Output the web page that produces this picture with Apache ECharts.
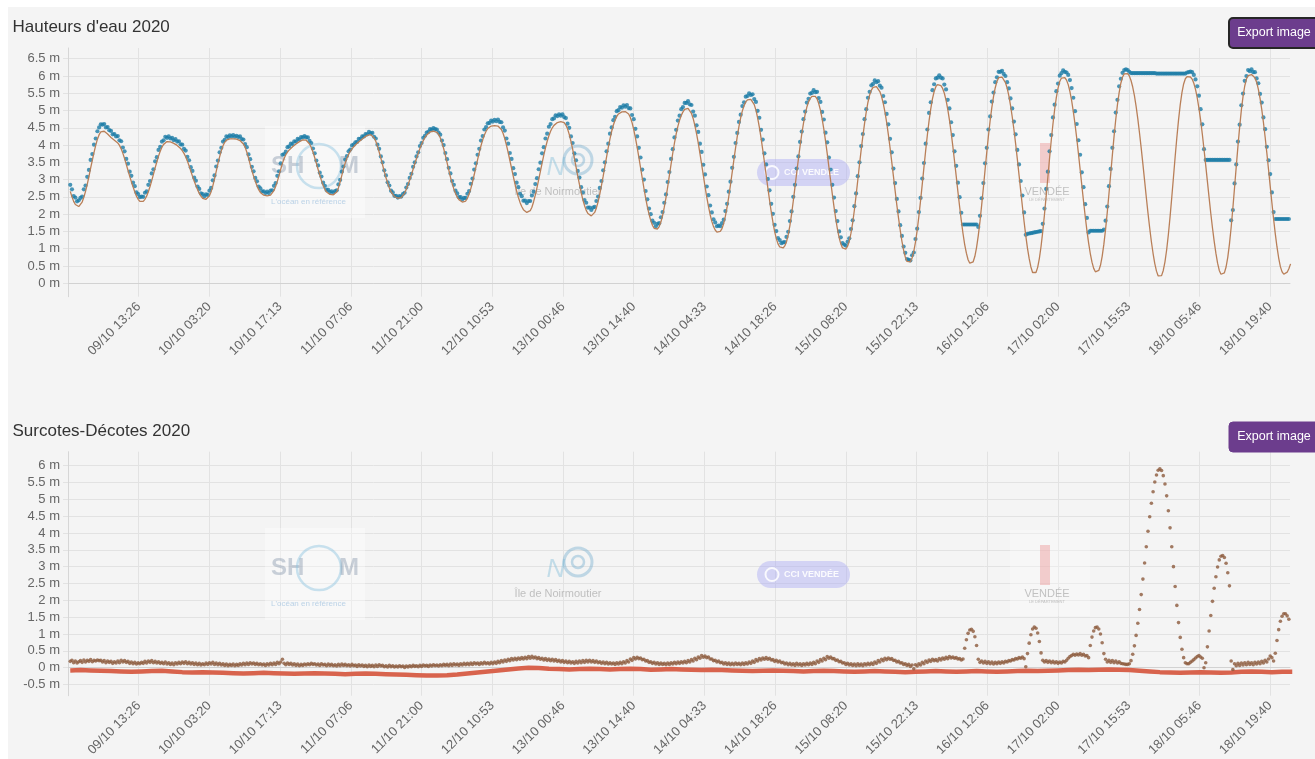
<!DOCTYPE html>
<html>
<head>
<meta charset="utf-8">
<title>Hauteurs d'eau 2020</title>
<script src="https://cdn.jsdelivr.net/npm/echarts@6/dist/echarts.min.js"></script>
<style>
  html, body { margin: 0; padding: 0; background: #ffffff; }
  #chart { width: 1315px; height: 759px; }
</style>
</head>
<body>
<div id="chart"></div>
<script>
// Tide gauge, 09/10/2020 00:00 -> 18/10/2020 23:40 (UTC), one value every 20 minutes.
const sampleStart = Date.UTC(2020, 9, 9, 0, 0, 0);
const sampleStepMinutes = 20;

// Predicted water height (m), 6 values = 2 hours.
const predicted = [
  2.66,2.50,2.37,2.28,2.23,2.22, 2.26,2.35,2.49,2.66,2.86,3.09,
  3.33,3.56,3.79,3.99,4.17,4.30, 4.38,4.42,4.40,4.36,4.32,4.27,
  4.22,4.18,4.14,4.11,4.06,3.99, 3.89,3.76,3.61,3.44,3.27,3.10,
  2.94,2.79,2.65,2.52,2.43,2.37, 2.35,2.37,2.43,2.52,2.65,2.80,
  2.97,3.15,3.34,3.51,3.68,3.82, 3.94,4.02,4.07,4.10,4.10,4.09,
  4.07,4.05,4.02,3.99,3.95,3.90, 3.84,3.76,3.66,3.54,3.40,3.25,
  // 10/10
  3.10,2.96,2.83,2.71,2.60,2.52, 2.46,2.43,2.43,2.46,2.53,2.65,
  2.82,3.02,3.24,3.46,3.66,3.84, 3.98,4.08,4.14,4.17,4.18,4.18,
  4.18,4.18,4.17,4.16,4.13,4.09, 4.03,3.94,3.80,3.63,3.44,3.26,
  3.10,2.95,2.82,2.71,2.63,2.58, 2.55,2.54,2.53,2.53,2.55,2.60,
  2.68,2.80,2.95,3.12,3.30,3.47, 3.61,3.72,3.80,3.86,3.91,3.95,
  3.99,4.03,4.07,4.10,4.13,4.15, 4.15,4.14,4.10,4.03,3.93,3.80,
  // 11/10
  3.64,3.47,3.30,3.13,2.97,2.83, 2.72,2.64,2.59,2.57,2.56,2.56,
  2.58,2.64,2.76,2.93,3.12,3.31, 3.48,3.62,3.73,3.82,3.89,3.95,
  4.00,4.05,4.09,4.13,4.17,4.21, 4.25,4.28,4.30,4.30,4.28,4.21,
  4.11,3.97,3.80,3.62,3.43,3.24, 3.06,2.90,2.76,2.65,2.57,2.51,
  2.48,2.46,2.46,2.48,2.53,2.61, 2.72,2.85,2.99,3.14,3.30,3.46,
  3.61,3.76,3.90,4.02,4.13,4.22, 4.29,4.34,4.38,4.40,4.40,4.40,
  // 12/10
  4.37,4.31,4.21,4.07,3.90,3.70, 3.49,3.28,3.07,2.89,2.73,2.60,
  2.49,2.42,2.37,2.35,2.34,2.38, 2.46,2.58,2.74,2.93,3.14,3.36,
  3.58,3.79,3.98,4.15,4.29,4.40, 4.48,4.53,4.55,4.56,4.56,4.56,
  4.55,4.52,4.45,4.34,4.19,4.00, 3.79,3.56,3.33,3.10,2.88,2.67,
  2.49,2.34,2.22,2.13,2.08,2.05, 2.05,2.10,2.20,2.36,2.55,2.77,
  3.00,3.24,3.48,3.71,3.92,4.11, 4.27,4.40,4.50,4.57,4.62,4.65,
  // 13/10
  4.67,4.68,4.68,4.65,4.58,4.47, 4.31,4.11,3.88,3.63,3.37,3.11,
  2.86,2.63,2.42,2.25,2.11,2.02, 1.97,1.95,1.98,2.05,2.18,2.36,
  2.58,2.83,3.10,3.38,3.66,3.93, 4.18,4.40,4.58,4.72,4.83,4.90,
  4.94,4.96,4.97,4.97,4.95,4.90, 4.80,4.65,4.45,4.21,3.94,3.65,
  3.35,3.05,2.75,2.47,2.22,2.00, 1.82,1.68,1.59,1.54,1.57,1.64,
  1.77,1.96,2.20,2.48,2.79,3.12, 3.45,3.77,4.06,4.32,4.54,4.72,
  // 14/10
  4.86,4.96,5.03,5.07,5.06,5.01, 4.92,4.77,4.57,4.33,4.06,3.76,
  3.44,3.12,2.80,2.50,2.23,1.99, 1.79,1.64,1.54,1.48,1.47,1.50,
  1.58,1.73,1.94,2.20,2.51,2.85, 3.21,3.57,3.92,4.25,4.54,4.79,
  4.99,5.14,5.25,5.31,5.33,5.32, 5.27,5.17,5.01,4.79,4.52,4.21,
  3.87,3.51,3.14,2.77,2.41,2.07, 1.77,1.50,1.29,1.14,1.05,1.01,
  1.02,1.08,1.20,1.40,1.67,2.00, 2.38,2.78,3.19,3.59,3.97,4.32,
  // 15/10
  4.63,4.89,5.10,5.25,5.35,5.41, 5.43,5.41,5.34,5.20,5.01,4.76,
  4.46,4.12,3.75,3.36,2.97,2.58, 2.21,1.87,1.57,1.32,1.14,1.02,
  0.97,0.99,1.07,1.22,1.45,1.75, 2.12,2.54,2.98,3.43,3.86,4.26,
  4.63,4.96,5.24,5.45,5.59,5.67, 5.70,5.69,5.64,5.55,5.41,5.21,
  4.96,4.66,4.31,3.93,3.52,3.10, 2.68,2.27,1.89,1.54,1.22,0.96,
  0.76,0.63,0.58,0.62,0.73,0.92, 1.19,1.53,1.94,2.39,2.87,3.36,
  // 16/10
  3.84,4.29,4.70,5.05,5.34,5.55, 5.69,5.75,5.75,5.72,5.64,5.50,
  5.30,5.04,4.73,4.37,3.97,3.54, 3.10,2.65,2.22,1.81,1.44,1.12,
  0.87,0.68,0.58,0.56,0.62,0.78, 1.04,1.38,1.79,2.26,2.76,3.28,
  3.79,4.27,4.71,5.09,5.41,5.66, 5.84,5.95,5.99,5.97,5.92,5.81,
  5.65,5.43,5.15,4.82,4.45,4.04, 3.60,3.14,2.68,2.22,1.78,1.37,
  1.01,0.71,0.47,0.31,0.26,0.31, 0.46,0.72,1.07,1.50,1.99,2.52,
  // 17/10
  3.07,3.62,4.14,4.61,5.03,5.38, 5.65,5.84,5.94,5.97,5.95,5.88,
  5.75,5.55,5.29,4.97,4.61,4.20, 3.76,3.30,2.84,2.38,1.94,1.53,
  1.17,0.86,0.61,0.43,0.33,0.31, 0.37,0.52,0.78,1.13,1.56,2.05,
  2.59,3.15,3.71,4.25,4.74,5.17, 5.52,5.79,5.97,6.06,6.09,6.07,
  6.00,5.87,5.68,5.43,5.12,4.76, 4.35,3.91,3.45,2.97,2.49,2.03,
  1.60,1.20,0.86,0.57,0.35,0.21, 0.17,0.22,0.37,0.62,0.97,1.41,
  // 18/10
  1.92,2.48,3.07,3.66,4.22,4.73, 5.17,5.52,5.77,5.92,5.98,5.99,
  5.97,5.91,5.79,5.61,5.37,5.07, 4.72,4.32,3.88,3.42,2.95,2.48,
  2.02,1.60,1.21,0.87,0.58,0.37, 0.26,0.24,0.30,0.47,0.75,1.14,
  1.62,2.17,2.77,3.38,3.97,4.52, 5.01,5.41,5.71,5.91,6.01,6.04,
  6.04,6.02,5.95,5.82,5.62,5.36, 5.04,4.66,4.24,3.78,3.30,2.81,
  2.33,1.86,1.43,1.05,0.73,0.48, 0.33,0.26,0.26,0.32,0.42,0.56
];

// Observed surge / negative surge (m) on the same 20-minute steps.
const surge = [
  0.19,0.22,0.15,0.20,0.14,0.18, 0.21,0.16,0.23,0.17,0.22,0.19,
  0.24,0.18,0.22,0.20,0.23,0.21, 0.22,0.17,0.21,0.15,0.20,0.16,
  0.19,0.13,0.18,0.14,0.20,0.15, 0.22,0.17,0.21,0.16,0.19,0.13,
  0.17,0.12,0.16,0.11,0.15,0.12, 0.16,0.13,0.19,0.14,0.20,0.16,
  0.21,0.15,0.19,0.14,0.18,0.13, 0.16,0.12,0.17,0.11,0.15,0.10,
  0.14,0.09,0.15,0.11,0.16,0.12, 0.17,0.13,0.18,0.12,0.16,0.11,
  // 10/10
  0.15,0.10,0.14,0.09,0.13,0.08, 0.12,0.09,0.14,0.10,0.15,0.11,
  0.16,0.10,0.14,0.09,0.13,0.08, 0.12,0.07,0.11,0.06,0.10,0.07,
  0.11,0.06,0.10,0.07,0.12,0.08, 0.13,0.09,0.14,0.10,0.15,0.11,
  0.14,0.10,0.13,0.09,0.12,0.08, 0.11,0.07,0.12,0.08,0.13,0.09,
  0.14,0.10,0.16,0.12,0.17,0.25, 0.13,0.09,0.14,0.10,0.13,0.08,
  0.12,0.07,0.11,0.06,0.10,0.07, 0.11,0.08,0.12,0.09,0.13,0.10,
  // 11/10
  0.12,0.08,0.11,0.07,0.12,0.08, 0.10,0.06,0.11,0.07,0.10,0.06,
  0.09,0.05,0.10,0.06,0.11,0.07, 0.10,0.06,0.09,0.05,0.10,0.06,
  0.08,0.04,0.09,0.05,0.08,0.04, 0.07,0.03,0.08,0.04,0.07,0.03,
  0.08,0.04,0.09,0.05,0.07,0.03, 0.06,0.02,0.07,0.03,0.06,0.02,
  0.05,0.02,0.06,0.03,0.05,0.01, 0.05,0.02,0.06,0.03,0.07,0.04,
  0.06,0.03,0.07,0.04,0.08,0.05, 0.07,0.04,0.08,0.05,0.09,0.06,
  // 12/10
  0.08,0.05,0.09,0.06,0.10,0.07, 0.10,0.06,0.11,0.07,0.12,0.08,
  0.11,0.07,0.12,0.08,0.13,0.09, 0.13,0.09,0.14,0.10,0.15,0.11,
  0.14,0.10,0.15,0.11,0.16,0.12, 0.15,0.11,0.16,0.12,0.17,0.13,
  0.19,0.15,0.21,0.17,0.23,0.19, 0.25,0.21,0.27,0.23,0.28,0.24,
  0.29,0.25,0.30,0.26,0.31,0.27, 0.33,0.28,0.34,0.29,0.32,0.27,
  0.30,0.25,0.28,0.23,0.27,0.22, 0.26,0.21,0.25,0.20,0.24,0.19,
  // 13/10
  0.22,0.17,0.21,0.16,0.20,0.15, 0.19,0.14,0.18,0.13,0.19,0.14,
  0.20,0.15,0.21,0.16,0.22,0.17, 0.22,0.17,0.21,0.16,0.20,0.15,
  0.18,0.13,0.17,0.12,0.16,0.11, 0.15,0.11,0.14,0.10,0.15,0.11,
  0.16,0.12,0.18,0.14,0.21,0.17, 0.26,0.22,0.30,0.26,0.31,0.27,
  0.29,0.24,0.25,0.20,0.21,0.16, 0.18,0.13,0.16,0.11,0.15,0.10,
  0.14,0.10,0.13,0.09,0.14,0.10, 0.15,0.11,0.16,0.12,0.17,0.13,
  // 14/10
  0.18,0.14,0.19,0.15,0.21,0.17, 0.24,0.20,0.28,0.24,0.32,0.28,
  0.36,0.31,0.35,0.30,0.32,0.26, 0.26,0.21,0.22,0.17,0.20,0.15,
  0.16,0.11,0.15,0.10,0.14,0.09, 0.13,0.09,0.14,0.10,0.13,0.09,
  0.14,0.10,0.15,0.11,0.17,0.13, 0.20,0.16,0.24,0.20,0.27,0.23,
  0.29,0.25,0.30,0.25,0.28,0.23, 0.24,0.19,0.22,0.17,0.20,0.15,
  0.16,0.11,0.14,0.09,0.13,0.08, 0.12,0.07,0.13,0.08,0.12,0.07,
  // 15/10
  0.12,0.08,0.13,0.09,0.14,0.10, 0.16,0.12,0.20,0.16,0.24,0.20,
  0.28,0.24,0.33,0.28,0.32,0.27, 0.27,0.22,0.23,0.18,0.19,0.14,
  0.15,0.10,0.13,0.08,0.12,0.07, 0.11,0.06,0.12,0.07,0.11,0.06,
  0.12,0.08,0.13,0.09,0.14,0.10, 0.17,0.13,0.21,0.17,0.25,0.21,
  0.28,0.24,0.29,0.25,0.27,0.22, 0.22,0.17,0.19,0.14,0.15,0.10,
  0.12,0.07,0.10,0.04,0.08,-0.03, 0.09,0.05,0.12,0.08,0.16,0.12,
  // 16/10
  0.20,0.16,0.23,0.19,0.25,0.21, 0.24,0.20,0.27,0.23,0.29,0.25,
  0.31,0.27,0.33,0.29,0.32,0.28, 0.30,0.26,0.27,0.23,0.26,0.58,
  0.83,1.02,1.12,1.14,1.08,0.92, 0.66,0.25,0.16,0.20,0.14,0.19,
  0.13,0.18,0.12,0.17,0.11,0.16, 0.12,0.17,0.13,0.18,0.14,0.19,
  0.17,0.21,0.20,0.24,0.23,0.27, 0.26,0.30,0.28,0.32,0.27,0.03,
  0.42,0.73,0.98,1.15,1.21,1.17, 1.03,0.78,0.44,0.22,0.17,0.21,
  // 17/10
  0.16,0.20,0.15,0.19,0.14,0.18, 0.13,0.17,0.14,0.19,0.17,0.22,
  0.28,0.33,0.36,0.40,0.37,0.41, 0.38,0.42,0.37,0.40,0.35,0.36,
  0.30,0.66,0.91,1.09,1.19,1.21, 1.15,1.00,0.74,0.42,0.25,0.17,
  0.22,0.16,0.21,0.15,0.20,0.14, 0.18,0.13,0.12,0.11,0.10,0.10,
  0.12,0.21,0.40,0.65,0.96,1.32, 1.73,2.17,2.63,3.11,3.59,4.05,
  4.48,4.88,5.22,5.51,5.72,5.86, 5.90,5.85,5.70,5.45,5.10,4.66,
  // 18/10
  4.15,3.59,3.00,2.41,1.85,1.34, 0.90,0.55,0.30,0.15,0.12,0.12,
  0.16,0.20,0.24,0.29,0.33,0.36, 0.32,0.28,0.00,0.15,0.62,1.09,
  1.55,1.97,2.36,2.70,2.99,3.20, 3.31,3.33,3.27,3.10,2.82,2.43,
  0.20,-0.05,0.12,0.06,0.13,0.07, 0.14,0.08,0.15,0.09,0.16,0.10,
  0.15,0.09,0.16,0.11,0.17,0.12, 0.19,0.14,0.22,0.17,0.26,0.35,
  0.30,0.20,0.43,0.81,1.13,1.38, 1.53,1.60,1.60,1.54,1.44,1.30
];

// Forecast surge (m), one value every 2 hours from 09/10 00:00.
const forecastStepMinutes = 120;
const surgeForecast = [
  -0.08,-0.07,-0.08,-0.09,-0.10,-0.11,-0.12,-0.11,-0.10,-0.09,-0.11,-0.13,
  -0.14,-0.13,-0.14,-0.15,-0.16,-0.17,-0.16,-0.15,-0.16,-0.17,-0.18,-0.17,
  -0.16,-0.17,-0.18,-0.19,-0.18,-0.17,-0.18,-0.19,-0.20,-0.21,-0.22,-0.23,
  -0.23,-0.22,-0.20,-0.17,-0.14,-0.11,-0.08,-0.05,-0.02,0.00,-0.01,-0.03,
  -0.04,-0.05,-0.04,-0.03,-0.04,-0.05,-0.04,-0.03,-0.04,-0.06,-0.05,-0.04,
  -0.05,-0.06,-0.07,-0.06,-0.07,-0.08,-0.09,-0.10,-0.09,-0.08,-0.09,-0.10,
  -0.11,-0.10,-0.09,-0.10,-0.11,-0.12,-0.11,-0.10,-0.11,-0.12,-0.13,-0.12,
  -0.11,-0.10,-0.11,-0.12,-0.11,-0.10,-0.11,-0.12,-0.11,-0.10,-0.09,-0.10,
  -0.09,-0.08,-0.07,-0.06,-0.07,-0.06,-0.05,-0.06,-0.07,-0.09,-0.11,-0.13,
  -0.14,-0.15,-0.14,-0.13,-0.14,-0.15,-0.14,-0.12,-0.11,-0.12,-0.13,-0.12,
  -0.12
];

// Time axis: ticks every 13 h 53 min 20 s, first label 09/10 13:26.
const axisMin = Date.UTC(2020, 9, 8, 23, 33, 20);
const axisTickStep = 50000 * 1000;
const axisMax = axisMin + 864000 * 1000;

const titles = ["Hauteurs d'eau 2020", 'Surcotes-Décotes 2020'];
const buttonText = 'Export image';

const FONT = '"Liberation Sans", Arial, Helvetica, sans-serif';
const stepMs = sampleStepMinutes * 60000;

// Observed height = prediction + surge.
const observed = predicted.map((p, i) => Math.round((p + surge[i]) * 100) / 100);

const predData = predicted.map((v, i) => [sampleStart + i * stepMs, v]);
const obsData = observed.map((v, i) => [sampleStart + i * stepMs, v]);
const surgeData = surge.map((v, i) => [sampleStart + i * stepMs, v]);
const forecastData = surgeForecast.map((v, i) => [sampleStart + i * forecastStepMinutes * 60000, v]);

function pad2(n) { return String(n).padStart(2, '0'); }
function fmtTime(v) {
  const d = new Date(v);
  return pad2(d.getUTCDate()) + '/' + pad2(d.getUTCMonth() + 1) + ' ' +
         pad2(d.getUTCHours()) + ':' + pad2(d.getUTCMinutes());
}

const GRID_COLOR = '#e2e2e2';

function xAxisFor(gridIndex) {
  return {
    type: 'value', gridIndex,
    min: axisMin, max: axisMax, interval: axisTickStep,
    axisLine: { show: true, lineStyle: { color: '#d2d2d2' } },
    axisTick: { show: false },
    axisLabel: {
      rotate: 45, formatter: fmtTime, color: '#666', fontSize: 13, fontFamily: FONT,
      showMinLabel: false, showMaxLabel: false, margin: 8
    },
    splitLine: { show: true, lineStyle: { color: GRID_COLOR }, showMinLine: false, showMaxLine: false }
  };
}
function yAxisFor(gridIndex, min, max) {
  return {
    type: 'value', gridIndex, min, max,
    minInterval: 0.5, maxInterval: 0.5, splitNumber: 14,
    axisLine: { show: true, lineStyle: { color: '#d6d6d6' } },
    axisTick: { show: true, length: 5, lineStyle: { color: GRID_COLOR } },
    axisLabel: {
      formatter: v => v + ' m', color: '#666', fontSize: 13, fontFamily: FONT,
      showMinLabel: false, showMaxLabel: false, margin: 8
    },
    splitLine: { show: true, lineStyle: { color: GRID_COLOR }, showMinLine: false, showMaxLine: false }
  };
}

// Faint partner logos drawn behind the data.
function logos(dy) {
  const g = [];
  // SHOM
  g.push({ type: 'rect', z: 1, shape: { x: 265, y: 126 + dy, width: 100, height: 92 }, style: { fill: 'rgba(255,255,255,0.35)' } });
  g.push({ type: 'text', z: 1, x: 271, y: 166 + dy, style: { text: 'SH', font: 'bold 24px ' + FONT, fill: 'rgba(110,130,155,0.35)', verticalAlign: 'middle' } });
  g.push({ type: 'circle', z: 1, shape: { cx: 319, cy: 166 + dy, r: 22 }, style: { fill: 'none', stroke: 'rgba(140,195,225,0.45)', lineWidth: 2.5 } });
  g.push({ type: 'text', z: 1, x: 339, y: 166 + dy, style: { text: 'M', font: 'bold 24px ' + FONT, fill: 'rgba(110,130,155,0.35)', verticalAlign: 'middle' } });
  g.push({ type: 'text', z: 1, x: 271, y: 202 + dy, style: { text: "L'océan en référence", font: '8px ' + FONT, fill: 'rgba(110,165,210,0.45)', verticalAlign: 'middle' } });
  // Île de Noirmoutier
  g.push({ type: 'circle', z: 1, shape: { cx: 578, cy: 160 + dy, r: 14 }, style: { fill: 'none', stroke: 'rgba(110,170,205,0.4)', lineWidth: 3 } });
  g.push({ type: 'circle', z: 1, shape: { cx: 578, cy: 160 + dy, r: 6 }, style: { fill: 'none', stroke: 'rgba(110,170,205,0.4)', lineWidth: 2.5 } });
  g.push({ type: 'text', z: 1, x: 556, y: 168 + dy, style: { text: 'N', font: 'italic 26px ' + FONT, fill: 'rgba(120,185,215,0.4)', align: 'center', verticalAlign: 'middle' } });
  g.push({ type: 'text', z: 1, x: 558, y: 192 + dy, style: { text: 'Île de Noirmoutier', font: '11px ' + FONT, fill: 'rgba(140,140,140,0.5)', align: 'center', verticalAlign: 'middle' } });
  // CCI Vendée
  g.push({ type: 'rect', z: 1, shape: { x: 757, y: 159 + dy, width: 93, height: 27, r: 13.5 }, style: { fill: 'rgba(170,170,245,0.45)' } });
  g.push({ type: 'circle', z: 1, shape: { cx: 772, cy: 172.5 + dy, r: 6.5 }, style: { fill: 'none', stroke: 'rgba(255,255,255,0.85)', lineWidth: 2 } });
  g.push({ type: 'text', z: 1, x: 784, y: 173 + dy, style: { text: 'CCI VENDÉE', font: 'bold 9px ' + FONT, fill: 'rgba(255,255,255,0.9)', verticalAlign: 'middle' } });
  // Vendée
  g.push({ type: 'rect', z: 1, shape: { x: 1010, y: 128 + dy, width: 80, height: 86 }, style: { fill: 'rgba(255,255,255,0.3)' } });
  g.push({ type: 'rect', z: 1, shape: { x: 1040, y: 143 + dy, width: 10, height: 40 }, style: { fill: 'rgba(235,150,150,0.45)' } });
  g.push({ type: 'text', z: 1, x: 1047, y: 192 + dy, style: { text: 'VENDÉE', font: '11px ' + FONT, fill: 'rgba(140,140,140,0.5)', align: 'center', verticalAlign: 'middle' } });
  g.push({ type: 'text', z: 1, x: 1047, y: 200 + dy, style: { text: 'LE DÉPARTEMENT', font: '4px ' + FONT, fill: 'rgba(140,140,140,0.5)', align: 'center', verticalAlign: 'middle' } });
  return g;
}

function exportButton(y, bordered) {
  return [
    { type: 'rect', z: 20, shape: { x: 1229, y: y, width: 92, height: 30, r: 4 },
      style: { fill: '#6c3d8d', stroke: bordered ? '#262626' : '#6c3d8d', lineWidth: bordered ? 2 : 1 } },
    { type: 'text', z: 21, x: 1274, y: y + 15,
      style: { text: buttonText, font: '12.5px ' + FONT, fill: '#ffffff', align: 'center', verticalAlign: 'middle' } }
  ];
}

const chart = echarts.init(document.getElementById('chart'), null, { renderer: 'canvas' });

chart.setOption({
  animation: false,
  backgroundColor: '#f4f4f4',
  grid: [
    { left: 68, right: 25, top: 48, height: 248.7 },
    { left: 68, right: 25, top: 451.7, height: 247.6 }
  ],
  xAxis: [xAxisFor(0), xAxisFor(1)],
  yAxis: [yAxisFor(0, -0.39, 6.81), yAxisFor(1, -0.83, 6.41)],
  graphic: [
    { type: 'rect', z: 30, shape: { x: 0, y: 0, width: 1315, height: 7 }, style: { fill: '#ffffff' } },
    { type: 'rect', z: 30, shape: { x: 0, y: 0, width: 8, height: 759 }, style: { fill: '#ffffff' } },
    { type: 'text', z: 20, x: 12.5, y: 27, style: { text: titles[0], font: '17px ' + FONT, fill: '#333', verticalAlign: 'middle' } },
    { type: 'text', z: 20, x: 12.5, y: 431, style: { text: titles[1], font: '17px ' + FONT, fill: '#333', verticalAlign: 'middle' } },
    ...logos(0),
    ...logos(402),
    ...exportButton(18, true),
    ...exportButton(422, false)
  ],
  series: [
    {
      name: 'Observation', type: 'scatter', xAxisIndex: 0, yAxisIndex: 0,
      data: obsData, symbolSize: 4.2, itemStyle: { color: '#1c7ca6' }, z: 3
    },
    {
      name: 'Prédiction', type: 'line', xAxisIndex: 0, yAxisIndex: 0,
      data: predData, showSymbol: false, lineStyle: { color: '#b97f58', width: 1.3 }, z: 4
    },
    {
      name: 'Surcote prévue', type: 'line', xAxisIndex: 1, yAxisIndex: 1,
      data: forecastData, showSymbol: false, lineStyle: { color: '#d8634d', width: 4.5 }, z: 3
    },
    {
      name: 'Surcote observée', type: 'scatter', xAxisIndex: 1, yAxisIndex: 1,
      data: surgeData, symbolSize: 3.6, itemStyle: { color: '#8c5a3c' }, z: 4
    }
  ]
});
</script>
</body>
</html>
